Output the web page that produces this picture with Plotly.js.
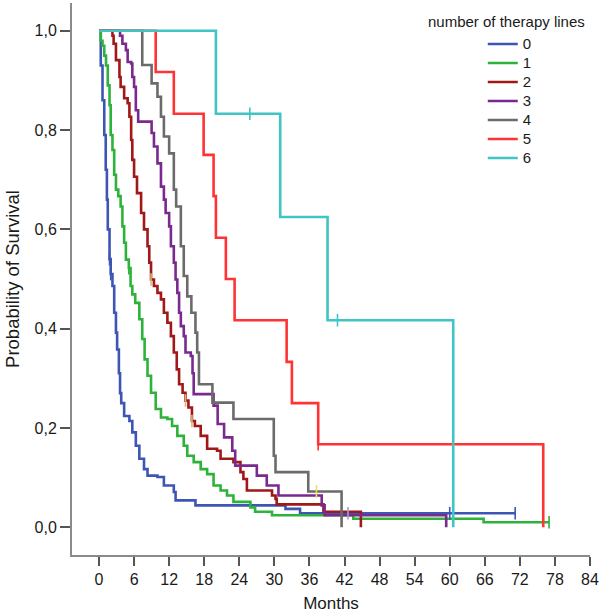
<!DOCTYPE html>
<html><head><meta charset="utf-8">
<script src="https://cdn.plot.ly/plotly-3.0.1.min.js"></script>
<style>html,body{margin:0;padding:0;background:#fff}#chart{width:600px;height:615px}</style>
</head><body><div id="chart"></div>
<script>
// Kaplan-Meier step curves: time (months) at which survival drops, survival after drop
const groupNames = ['0', '1', '2', '3', '4', '5', '6'];
const groupColors = ['#3d56b5', '#2db33a', '#a01818', '#7a2a8f', '#6b6b6b', '#ff3333', '#40c4c4'];

const t0 = [0, 0.3, 0.6, 0.9, 1.15, 1.35, 1.5, 1.8, 2.0, 2.3, 2.6, 2.9, 3.1, 3.4, 3.6, 3.8, 4.3, 5.2, 5.7, 6.3, 6.9, 7.7, 8.3, 10.0, 11.1, 12.8, 13.1, 16.5, 31.9, 34.4, 71.2];
const s0 = [1, 0.93, 0.86, 0.79, 0.72, 0.66, 0.60, 0.54, 0.51, 0.486, 0.432, 0.392, 0.358, 0.31, 0.27, 0.25, 0.224, 0.214, 0.191, 0.164, 0.138, 0.117, 0.104, 0.101, 0.084, 0.071, 0.054, 0.044, 0.037, 0.028, 0.028];

const t1 = [0, 0.3, 0.6, 0.9, 1.2, 1.5, 1.8, 2.0, 2.3, 2.6, 2.9, 3.3, 3.7, 4.0, 4.3, 4.6, 5.1, 5.4, 5.7, 6.2, 6.9, 7.4, 7.8, 8.3, 8.9, 9.7, 10.6, 11.7, 12.5, 13.4, 14.5, 15.1, 16.2, 17.4, 18.5, 19.6, 20.8, 21.9, 23.0, 25.9, 26.7, 29.6, 43.5, 65.8, 77.0];
const s1 = [1, 0.98, 0.97, 0.95, 0.93, 0.89, 0.85, 0.79, 0.76, 0.71, 0.68, 0.667, 0.646, 0.606, 0.573, 0.539, 0.522, 0.486, 0.469, 0.452, 0.419, 0.379, 0.338, 0.305, 0.271, 0.238, 0.221, 0.218, 0.204, 0.184, 0.164, 0.144, 0.131, 0.117, 0.107, 0.084, 0.074, 0.064, 0.051, 0.040, 0.031, 0.024, 0.017, 0.010, 0.010];

const t2 = [0, 2.3, 2.5, 2.9, 3.5, 3.7, 4.3, 4.9, 5.2, 5.5, 5.7, 6.0, 6.5, 7.2, 7.7, 8.3, 8.6, 8.9, 9.4, 10.0, 10.6, 11.1, 11.7, 12.3, 12.8, 13.3, 13.7, 14.3, 14.8, 15.3, 15.9, 16.4, 17.4, 18.5, 20.2, 20.8, 23.0, 24.2, 24.7, 25.3, 29.6, 30.2, 30.4, 38.4, 44.8];
const s2 = [1, 0.99, 0.974, 0.941, 0.907, 0.887, 0.864, 0.854, 0.827, 0.78, 0.74, 0.706, 0.673, 0.633, 0.60, 0.566, 0.533, 0.499, 0.486, 0.472, 0.459, 0.432, 0.412, 0.385, 0.352, 0.318, 0.288, 0.271, 0.255, 0.241, 0.214, 0.204, 0.184, 0.158, 0.154, 0.138, 0.131, 0.111, 0.097, 0.074, 0.064, 0.057, 0.046, 0.031, 0.0];

const t3 = [0, 3.6, 4.0, 4.6, 4.9, 5.5, 5.7, 6.0, 6.3, 6.7, 9.0, 9.4, 10.0, 10.6, 11.1, 11.4, 12.0, 12.3, 12.8, 13.1, 13.4, 13.7, 14.0, 14.5, 14.8, 15.7, 16.0, 16.2, 19.6, 20.3, 21.4, 22.8, 23.3, 27.0, 28.7, 30.7, 38.1, 38.6, 59.4];
const s3 = [1, 0.99, 0.974, 0.961, 0.937, 0.934, 0.907, 0.887, 0.84, 0.817, 0.794, 0.767, 0.733, 0.686, 0.66, 0.633, 0.606, 0.566, 0.533, 0.499, 0.472, 0.432, 0.405, 0.385, 0.352, 0.345, 0.31, 0.268, 0.245, 0.208, 0.181, 0.154, 0.124, 0.104, 0.084, 0.064, 0.044, 0.024, 0.0];

const t4 = [0, 7.4, 9.0, 10.0, 10.6, 11.1, 12.0, 12.8, 13.2, 14.0, 14.5, 15.1, 15.8, 16.5, 16.8, 17.1, 19.4, 23.0, 29.9, 30.2, 35.8, 41.5];
const s4 = [1, 0.931, 0.894, 0.867, 0.827, 0.787, 0.753, 0.68, 0.646, 0.566, 0.506, 0.465, 0.432, 0.392, 0.352, 0.288, 0.251, 0.218, 0.144, 0.111, 0.072, 0.0];

const t5 = [0, 9.7, 12.8, 17.9, 19.6, 20.0, 21.7, 23.2, 32.1, 33.0, 37.5, 76.0];
const s5 = [1, 0.917, 0.833, 0.75, 0.667, 0.583, 0.5, 0.417, 0.333, 0.25, 0.167, 0.0];

const t6 = [0, 20.0, 31.0, 39.1, 60.6];
const s6 = [1, 0.833, 0.625, 0.417, 0.0];

// censored observations (time, survival)
const c0t = [1.8, 2.0, 60.0, 71.2], c0s = [0.54, 0.51, 0.028, 0.028];
const c1t = [5.1, 77.0], c1s = [0.522, 0.010];
const c2t = [8.9, 14.8, 15.9], c2s = [0.499, 0.255, 0.214];
const c3t = [42.6], c3s = [0.028];
const c4t = [37.2], c4s = [0.072];
const c5t = [37.5], c5s = [0.167];
const c6t = [25.8, 40.8], c6s = [0.833, 0.417];

const xTicks = [0, 6, 12, 18, 24, 30, 36, 42, 48, 54, 60, 66, 72, 78, 84];
const yTicks = [0, 0.2, 0.4, 0.6, 0.8, 1.0];

const T = [t0, t1, t2, t3, t4, t5, t6];
const S = [s0, s1, s2, s3, s4, s5, s6];
const CT = [c0t, c1t, c2t, c3t, c4t, c5t, c6t];
const CS = [c0s, c1s, c2s, c3s, c4s, c5s, c6s];
const censorColors = ['#3d56b5', '#2db33a', '#d8b878', '#9aa6c8', '#e8e060', '#ff3333', '#40c4c4'];

const traces = [];
for (let i = 0; i < groupNames.length; i++) {
  traces.push({
    x: T[i], y: S[i], type: 'scatter', mode: 'lines',
    name: '<span style="font-size:15px">' + groupNames[i] + '</span>',
    line: {shape: 'hv', color: groupColors[i], width: 2.6},
    hoverinfo: 'skip'
  });
}
for (let i = 0; i < groupNames.length; i++) {
  traces.push({
    x: CT[i], y: CS[i], type: 'scatter', mode: 'markers', showlegend: false,
    marker: {symbol: 'line-ns-open', size: 9, color: censorColors[i], line: {color: censorColors[i], width: 1.6}},
    hoverinfo: 'skip'
  });
}

const FONT = 'Liberation Sans, Arial, sans-serif';
const layout = {
  width: 600, height: 615,
  margin: {l: 72, r: 10, t: 3, b: 60},
  paper_bgcolor: '#fff', plot_bgcolor: '#fff',
  separators: ',.',
  font: {family: FONT, color: '#1a1a1a', size: 16},
  xaxis: {
    range: [-4.62, 84], tickvals: xTicks, ticks: 'outside', ticklen: 9, tickwidth: 2,
    tickcolor: '#555', showline: true, linecolor: '#8a8a8a', linewidth: 2,
    showgrid: false, zeroline: false, automargin: false,
    tickfont: {size: 16, family: FONT, color: '#1a1a1a'},
    title: {text: 'Months', font: {size: 17, family: FONT, color: '#1a1a1a'}, standoff: 10}
  },
  yaxis: {
    range: [-0.056, 1.056], tickvals: yTicks, tickformat: '.1f', ticks: 'outside', ticklen: 10, tickwidth: 2,
    tickcolor: '#555', showline: true, linecolor: '#8a8a8a', linewidth: 2,
    showgrid: false, zeroline: false, automargin: false,
    tickfont: {size: 16, family: FONT, color: '#1a1a1a'},
    title: {text: 'Probability of Survival', font: {size: 18.5, family: FONT, color: '#1a1a1a'}, standoff: 10}
  },
  showlegend: true,
  legend: {
    x: 0.793, y: 0.952, xanchor: 'left', yanchor: 'top',
    font: {size: 12, family: FONT, color: '#1a1a1a'},
    bgcolor: 'rgba(0,0,0,0)', borderwidth: 0, tracegroupgap: 0
  },
  annotations: [{
    text: 'number of therapy lines', xref: 'paper', yref: 'paper', x: 0.838, y: 0.9656,
    xanchor: 'center', yanchor: 'middle', showarrow: false,
    font: {size: 15, family: FONT, color: '#1a1a1a'}
  }]
};

Plotly.newPlot('chart', traces, layout, {staticPlot: true, displayModeBar: false});
</script>
</body></html>
